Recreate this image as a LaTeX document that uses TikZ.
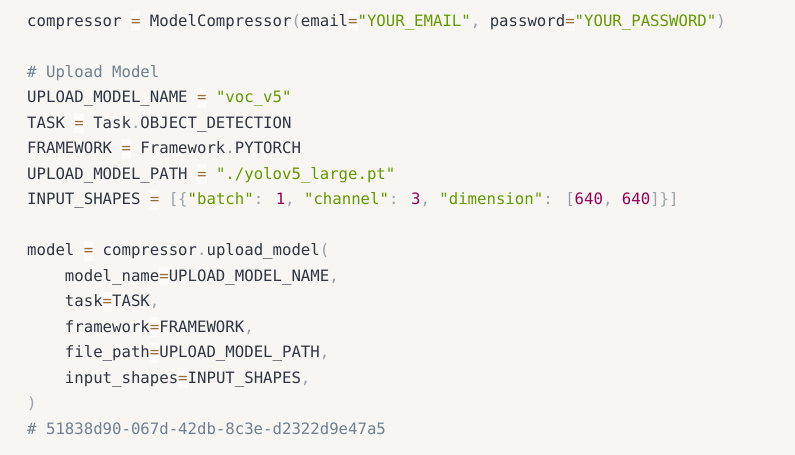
\documentclass[tikz,border=0pt]{standalone}
\usepackage{fontspec}
\usepackage{xcolor}
\newfontfamily\codefont{DejaVu Sans Mono}
\definecolor{pagebg}{HTML}{F7F6F3}
\definecolor{opbg}{HTML}{FCFBFA}
\definecolor{codetext}{HTML}{2F3542}
\definecolor{opcol}{HTML}{9A6E3A}
\definecolor{puncol}{HTML}{9AA2AE}
\definecolor{strcol}{HTML}{669900}
\definecolor{numcol}{HTML}{990055}
\definecolor{cmtcol}{HTML}{708090}
\newcommand\cop[1]{\rlap{\textcolor{opbg}{\rule[-5pt]{9.44pt}{20pt}}}\textcolor{opcol}{#1}}
\newcommand\cpun[1]{\textcolor{puncol}{#1}}
\newcommand\cstr[1]{\textcolor{strcol}{#1}}
\newcommand\cnum[1]{\textcolor{numcol}{#1}}
\newcommand\ccmt[1]{\textcolor{cmtcol}{#1}}
\begin{document}
\begin{tikzpicture}[x=1pt,y=1pt,
  codeline/.style={anchor=base west,inner sep=0pt,text=codetext,
    font=\codefont\fontsize{15.68pt}{18pt}\selectfont}]
\fill[pagebg] (0,0) rectangle (795,-455);
\useasboundingbox (0,0) rectangle (795,-455);
% set up the client
\node[codeline] (l1) at (27,-26) {compressor \cop{=} ModelCompressor\cpun{(}email\cop{=}\cstr{"YOUR\_EMAIL"}\cpun{,} password\cop{=}\cstr{"YOUR\_PASSWORD"}\cpun{)}};
% upload settings
\node[codeline] (l3) at (27,-77) {\ccmt{\# Upload Model}};
\node[codeline] (l4) at (27,-102.5) {UPLOAD\_MODEL\_NAME \cop{=} \cstr{"voc\_v5"}};
\node[codeline] (l5) at (27,-128) {TASK \cop{=} Task\cpun{.}OBJECT\_DETECTION};
\node[codeline] (l6) at (27,-153.5) {FRAMEWORK \cop{=} Framework\cpun{.}PYTORCH};
\node[codeline] (l7) at (27,-179) {UPLOAD\_MODEL\_PATH \cop{=} \cstr{"./yolov5\_large.pt"}};
\node[codeline] (l8) at (27,-204.5) {INPUT\_SHAPES \cop{=} \cpun{[\{}\cstr{"batch"}\cpun{:} \cnum{1}\cpun{,} \cstr{"channel"}\cpun{:} \cnum{3}\cpun{,} \cstr{"dimension"}\cpun{:} \cpun{[}\cnum{640}\cpun{,} \cnum{640}\cpun{]\}]}};
% the call
\node[codeline] (l10) at (27,-255.5) {model \cop{=} compressor\cpun{.}upload\_model\cpun{(}};
\node[codeline] (l11) at (64.76,-281) {model\_name\cop{=}UPLOAD\_MODEL\_NAME\cpun{,}};
\node[codeline] (l12) at (64.76,-306.5) {task\cop{=}TASK\cpun{,}};
\node[codeline] (l13) at (64.76,-332) {framework\cop{=}FRAMEWORK\cpun{,}};
\node[codeline] (l14) at (64.76,-357.5) {file\_path\cop{=}UPLOAD\_MODEL\_PATH\cpun{,}};
\node[codeline] (l15) at (64.76,-383) {input\_shapes\cop{=}INPUT\_SHAPES\cpun{,}};
\node[codeline] (l16) at (27,-408.5) {\cpun{)}};
\node[codeline] (l17) at (27,-434) {\ccmt{\# 51838d90-067d-42db-8c3e-d2322d9e47a5}};
\end{tikzpicture}
\end{document}
